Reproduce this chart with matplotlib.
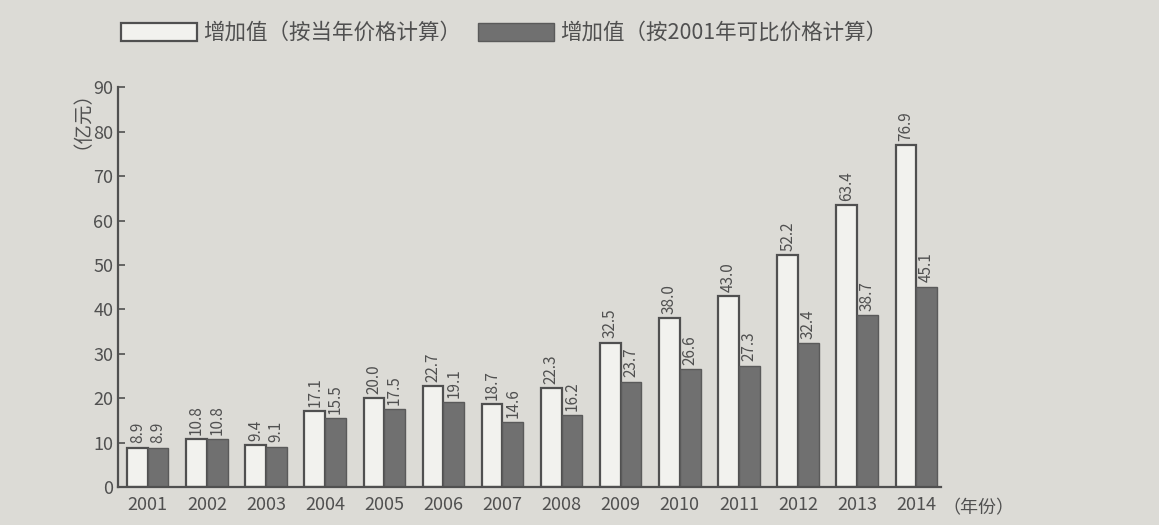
import numpy as np, matplotlib
matplotlib.use("Agg"); import matplotlib.pyplot as plt
from matplotlib.patches import Patch

plt.rcParams['font.family'] = ['Noto Sans CJK SC', 'DejaVu Sans']

years = ['2001', '2002', '2003', '2004', '2005', '2006', '2007',
         '2008', '2009', '2010', '2011', '2012', '2013', '2014']
current = [8.9, 10.8, 9.4, 17.1, 20.0, 22.7, 18.7, 22.3, 32.5, 38.0, 43.0, 52.2, 63.4, 76.9]
comparable = [8.9, 10.8, 9.1, 15.5, 17.5, 19.1, 14.6, 16.2, 23.7, 26.6, 27.3, 32.4, 38.7, 45.1]
lab_cur = '增加值（按当年价格计算）'
lab_cmp = '增加值（按2001年可比价格计算）'

ink = '#505050'; paper = '#dcdbd6'
fig = plt.figure(figsize=(11.59, 5.25), dpi=100, facecolor=paper)
ax = fig.add_axes([0.102, 0.072, 0.71, 0.762], facecolor=paper)

x = np.arange(len(years)); w = 0.35
b1 = ax.bar(x - w/2, current, w, facecolor='#f2f2ee', edgecolor=ink, lw=1.6)
b2 = ax.bar(x + w/2, comparable, w, facecolor='#707070', edgecolor='#5a5a5a', lw=1.0)
for r, v in zip(b1, current):
    ax.text(r.get_x() + r.get_width()/2, v + 1.0, f'{v:.1f}', rotation=90,
            ha='center', va='bottom', fontsize=11, color=ink)
for r, v in zip(b2, comparable):
    ax.text(r.get_x() + r.get_width()/2, v + 1.0, f'{v:.1f}', rotation=90,
            ha='center', va='bottom', fontsize=11, color=ink)

ax.set_xlim(-0.5, 13.42); ax.set_ylim(0, 90)
ax.set_yticks(range(0, 91, 10))
ax.set_xticks(x); ax.set_xticklabels(years)
ax.tick_params(axis='y', direction='in', length=5, colors=ink, labelsize=13, width=1.2)
ax.tick_params(axis='x', length=0, colors=ink, labelsize=13, pad=6)
for s in ['top', 'right']: ax.spines[s].set_visible(False)
for s in ['left', 'bottom']:
    ax.spines[s].set_color(ink); ax.spines[s].set_linewidth(1.6)
ax.text(13.45, -0.03, '（年份）', transform=ax.get_xaxis_transform(),
        ha='left', va='top', fontsize=13, color=ink)
fig.text(0.062, 0.79, '（亿元）', rotation=90, ha='center', va='center', fontsize=14, color=ink)

handles = [Patch(facecolor='#f2f2ee', edgecolor=ink, lw=1.6, label=lab_cur),
           Patch(facecolor='#707070', edgecolor='#5a5a5a', label=lab_cmp)]
fig.legend(handles=handles, loc='upper left', bbox_to_anchor=(0.088, 0.995), ncol=2,
           frameon=False, handlelength=3.5, handleheight=0.9, fontsize=15.5,
           labelcolor=ink, columnspacing=0.8, handletextpad=0.3)

plt.savefig('out.png', dpi=100, facecolor=paper)
